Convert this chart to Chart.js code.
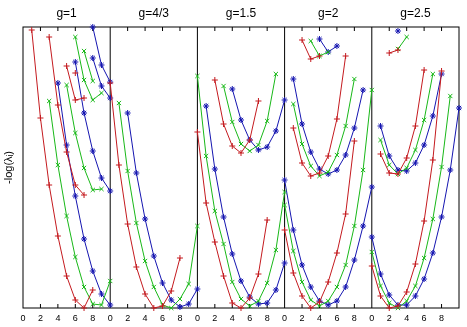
<!DOCTYPE html>
<html>
<head>
<meta charset="utf-8">
<script src="https://cdn.jsdelivr.net/npm/chart.js@4.4.1/dist/chart.umd.min.js"></script>
<style>
  html, body { margin: 0; padding: 0; background: #fff; }
  #wrap { width: 467px; height: 327px; }
</style>
</head>
<body>
<div id="wrap"><canvas id="chart1"></canvas></div>
<script>
// Títulos de cada panel y etiquetas del eje x.
const panelTitles = ['g=1', 'g=4/3', 'g=1.5', 'g=2', 'g=2.5'];
const xTickLabels = ['0', '2', '4', '6', '8'];
const yTitle = '-log(λᵢ)';

// Cada curva: primer número = x inicial, luego los valores de -log(λ) en x, x+1, ...
const g1Red = [
    [1, 27.8, 19.0, 12.3, 7.2, 3.2, 0.8, 0.0, 1.8],
    [3, 27.1, 20.3, 15.6, 12.3, 11.3],
    [5, 24.2, 20.8, 21.0],
    [6, 23.5]
];
const g1Green = [
    [3, 20.7, 14.3, 9.2, 5.1, 2.1, 0.4, 0.3, 2.7],
    [5, 22.3, 17.5, 14.0, 11.8, 11.9],
    [6, 27.1, 22.8, 20.8, 21.5],
    [7, 25.7, 22.7]
];
const g1Blue = [
    [4, 22.5, 16.3, 11.2, 6.9, 3.7, 1.4, 0.3],
    [6, 24.6, 19.5, 15.7, 13.0, 11.7],
    [8, 25.0, 22.2, 21.0],
    [8, 28.1, 24.3, 22.6]
];

const g43Red = [
    [0, 22.5, 14.3, 8.4, 4.1, 1.4, 0.0, 0.2, 1.7, 5.0]
];
const g43Green = [
    [1, 20.5, 13.7, 8.5, 4.7, 2.1, 0.3, 0.0, 0.9, 2.4, 8.2]
];
const g43Blue = [
    [2, 19.5, 13.5, 8.9, 5.2, 2.5, 0.8, 0.1, 0.4, 1.9]
];

const g15Red = [
    [0, 17.6, 10.5, 6.6, 3.2, 0.5, 0.0, 1.0, 3.4, 8.8],
    [2, 22.8, 18.4, 16.2, 15.5, 16.8, 20.7]
];
const g15Green = [
    [0, 23.2, 15.2, 9.7, 6.4, 2.6, 0.9, 0.2, 0.7, 2.5, 5.8, 11.6],
    [3, 22.2, 18.6, 16.4, 15.7, 16.3, 18.7, 23.4]
];
const g15Blue = [
    [1, 20.2, 13.9, 9.1, 5.4, 2.7, 1.1, 0.4, 0.5, 1.8, 4.5],
    [4, 21.9, 18.8, 16.8, 15.8, 16.1, 17.7, 20.8]
];

const g2Red = [
    [0, 7.8, 3.5, 1.2, 0.0, 0.6, 2.6, 5.5, 9.4, 16.7],
    [1, 18.0, 14.5, 13.2, 13.5, 15.2, 18.9, 25.2],
    [2, 26.8, 24.9, 25.2]
];
const g2Green = [
    [0, 10.3, 5.7, 2.6, 0.8, 0.2, 0.7, 2.1, 4.3, 8.2, 13.8, 21.8],
    [1, 20.4, 16.4, 14.2, 13.2, 13.6, 15.3, 18.2, 22.9],
    [3, 26.7, 25.2, 25.6]
];
const g2Blue = [
    [0, 12.8, 7.8, 4.3, 2.1, 0.7, 0.3, 0.7, 2.1, 4.8, 8.2, 12.1],
    [1, 22.9, 18.4, 15.6, 13.9, 13.4, 13.8, 15.3, 18.0, 21.8],
    [4, 26.9, 25.6, 26.2]
];

const g25Red = [
    [0, 4.2, 1.2, 0.0, 0.2, 1.6, 4.4, 8.7, 14.8, 23.7],
    [1, 15.4, 13.5, 13.4, 15.0, 18.2, 23.8],
    [2, 25.5, 25.8]
];
const g25Green = [
    [0, 5.6, 2.2, 0.5, 0.0, 0.7, 2.2, 5.0, 8.9, 14.1, 21.2],
    [1, 16.8, 14.3, 13.4, 14.0, 15.8, 18.8, 23.4],
    [3, 25.9, 27.1]
];
const g25Blue = [
    [0, 7.1, 3.4, 1.3, 0.3, 0.3, 1.2, 2.9, 5.5, 9.1, 13.8, 20.0],
    [1, 18.2, 15.2, 13.8, 13.7, 14.5, 16.3, 19.2, 23.4],
    [3, 27.7]
];

const panelRed = [g1Red, g43Red, g15Red, g2Red, g25Red];
const panelGreen = [g1Green, g43Green, g15Green, g2Green, g25Green];
const panelBlue = [g1Blue, g43Blue, g15Blue, g2Blue, g25Blue];

// Estilo de cada color (como en gnuplot).
const estilos = [
    { color: '#c41a1f', punto: 'cross', curvas: panelRed },
    { color: '#18b818', punto: 'crossRot', curvas: panelGreen },
    { color: '#1515b0', punto: 'star', curvas: panelBlue }
];

// Se construyen los datasets: cada panel ocupa 10 unidades del eje x.
const datasets = [];
estilos.forEach(est => {
    est.curvas.forEach((curvas, panel) => {
        curvas.forEach(curva => {
            const inicio = curva[0];
            const puntos = curva.slice(1).map((y, i) => ({ x: panel * 10 + inicio + i, y: y }));
            datasets.push({
                data: puntos,
                borderColor: est.color,
                backgroundColor: est.color,
                borderWidth: 1,
                pointStyle: est.punto,
                pointRadius: 3,
                pointBorderWidth: 1,
                pointBorderColor: est.color,
                pointHoverRadius: 3,
                tension: 0,
                clip: false
            });
        });
    });
});

// Plugin para el marco, separadores de paneles, marcas y títulos.
const marcoPlugin = {
    id: 'marco',
    beforeDatasetsDraw(chart) {
        const { ctx, chartArea, scales } = chart;
        const xs = scales.x;
        ctx.save();
        ctx.strokeStyle = '#000';
        ctx.lineWidth = 1;
        ctx.strokeRect(chartArea.left, chartArea.top, chartArea.right - chartArea.left, chartArea.bottom - chartArea.top);
        // separadores
        for (let p = 1; p < panelTitles.length; p++) {
            const px = xs.getPixelForValue(p * 10);
            ctx.beginPath();
            ctx.moveTo(px, chartArea.top);
            ctx.lineTo(px, chartArea.bottom);
            ctx.stroke();
        }
        // marcas hacia adentro
        xs.ticks.forEach(t => {
            if (t.value % 10 === 0) return;
            const px = xs.getPixelForValue(t.value);
            ctx.beginPath();
            ctx.moveTo(px, chartArea.bottom);
            ctx.lineTo(px, chartArea.bottom - 4);
            ctx.moveTo(px, chartArea.top);
            ctx.lineTo(px, chartArea.top + 4);
            ctx.stroke();
        });
        ctx.restore();
    },
    afterDraw(chart) {
        const { ctx, chartArea, scales } = chart;
        ctx.save();
        ctx.fillStyle = '#000';
        ctx.font = '12px "Liberation Sans", Arial, sans-serif';
        ctx.textAlign = 'center';
        ctx.textBaseline = 'middle';
        panelTitles.forEach((t, p) => {
            ctx.fillText(t, scales.x.getPixelForValue(p * 10 + 5), chartArea.top - 13);
        });
        ctx.restore();
    }
};

const ctx = document.getElementById('chart1').getContext('2d');
const chart = new Chart(ctx, {
    type: 'line',
    data: { datasets: datasets },
    plugins: [marcoPlugin],
    options: {
        responsive: true,
        maintainAspectRatio: false,
        animation: false,
        events: [],
        layout: { padding: { top: 27, right: 8, left: 0, bottom: 0 } },
        plugins: {
            legend: { display: false },
            tooltip: { enabled: false }
        },
        scales: {
            x: {
                type: 'linear',
                min: 0,
                max: 50,
                grid: { display: false, drawTicks: false },
                border: { display: false },
                afterFit: scale => { scale.height = 19; },
                ticks: {
                    stepSize: 2,
                    autoSkip: false,
                    maxRotation: 0,
                    padding: 5,
                    color: '#000',
                    font: { family: '"Liberation Sans", Arial, sans-serif', size: 9 },
                    callback: v => (v >= 50 ? '' : xTickLabels[(v % 10) / 2])
                }
            },
            y: {
                min: 0,
                max: 28.1,
                grid: { display: false },
                border: { display: false },
                afterFit: scale => { scale.width = 23; },
                ticks: { display: false },
                title: {
                    display: true,
                    text: yTitle,
                    color: '#000',
                    padding: { top: 2, bottom: 0 },
                    font: { family: '"Liberation Sans", Arial, sans-serif', size: 11 }
                }
            }
        }
    }
});
</script>
</body>
</html>
